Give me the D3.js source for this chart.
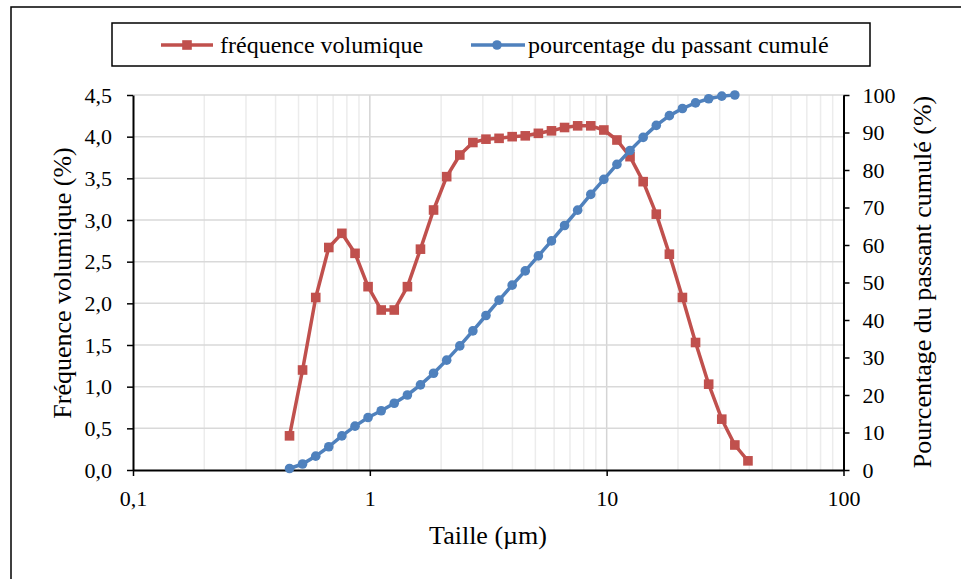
<!DOCTYPE html>
<html>
<head>
<meta charset="utf-8">
<script src="https://cdn.jsdelivr.net/npm/d3@7"></script>
<style>
  body { margin: 0; background: #fff; }
  svg text { font-family: "Liberation Serif", "Times New Roman", Times, Tinos, "DejaVu Serif", "Noto Serif", serif !important; }
</style>
</head>
<body>
<svg id="chart" width="961" height="579"></svg>
<script>
// particle sizes (µm)
const sizes = [0.458, 0.520, 0.591, 0.671, 0.762, 0.866, 0.983, 1.117, 1.268, 1.441,
  1.636, 1.858, 2.111, 2.398, 2.723, 3.093, 3.513, 3.990, 4.532, 5.148,
  5.847, 6.641, 7.543, 8.567, 9.731, 11.05, 12.55, 14.26, 16.20, 18.40,
  20.89, 23.73, 26.96, 30.62, 34.77, 39.50];

// fréquence volumique (%)
const freq = [0.41, 1.20, 2.07, 2.67, 2.84, 2.60, 2.20, 1.92, 1.92, 2.20,
  2.65, 3.12, 3.52, 3.78, 3.93, 3.97, 3.98, 4.00, 4.01, 4.04,
  4.07, 4.11, 4.13, 4.13, 4.08, 3.96, 3.76, 3.46, 3.07, 2.59,
  2.07, 1.53, 1.03, 0.61, 0.30, 0.11];

// pourcentage du passant cumulé (%)
const cumul = [0.4, 1.6, 3.7, 6.2, 9.1, 11.7, 14.0, 15.8, 17.8, 20.0,
  22.7, 25.8, 29.3, 33.1, 37.1, 41.2, 45.3, 49.3, 53.1, 57.1,
  61.1, 65.2, 69.3, 73.5, 77.5, 81.5, 85.2, 88.7, 91.9, 94.5,
  96.4, 97.9, 99.0, 99.7, 100];

const xTicks = [0.1, 1, 10, 100];
const yLeftTicks = [0, 0.5, 1, 1.5, 2, 2.5, 3, 3.5, 4, 4.5];
const yRightTicks = [0, 10, 20, 30, 40, 50, 60, 70, 80, 90, 100];
const legendLabels = ["fréquence volumique", "pourcentage du passant cumulé"];

const red = "#C0504D", blue = "#4F81BD";
const svg = d3.select("#chart");

// outer frame (cut off at right and bottom)
svg.append("rect")
  .attr("x", 11).attr("y", 7)
  .attr("width", 1000).attr("height", 700)
  .attr("fill", "none").attr("stroke", "#000").attr("stroke-width", 1.5);

const x = d3.scaleLog().domain([0.1, 100]).range([133, 843.5]);
const yL = d3.scaleLinear().domain([0, 4.5]).range([470, 95]);
const yR = d3.scaleLinear().domain([0, 100]).range([470, 95]);

// grid
let minor = [];
[0.1, 1, 10].forEach(function (d) {
  for (let k = 2; k <= 9; k++) minor.push(d * k);
});
svg.append("g").selectAll("line").data(minor).join("line")
  .attr("x1", d => x(d)).attr("x2", d => x(d))
  .attr("y1", yL(4.5)).attr("y2", yL(0))
  .attr("stroke", "#ececec").attr("stroke-width", 1.5);
svg.append("g").selectAll("line").data([1, 10]).join("line")
  .attr("x1", d => x(d)).attr("x2", d => x(d))
  .attr("y1", yL(4.5)).attr("y2", yL(0))
  .attr("stroke", "#d4d4d4").attr("stroke-width", 1.5);
svg.append("g").selectAll("line").data(yLeftTicks.slice(1)).join("line")
  .attr("x1", x(0.1)).attr("x2", x(100))
  .attr("y1", d => yL(d)).attr("y2", d => yL(d))
  .attr("stroke", "#d9d9d9").attr("stroke-width", 1.5);

const comma = d => String(d).replace(".", ",");

// axes
const axL = svg.append("g").attr("transform", "translate(133,0)")
  .call(d3.axisLeft(yL).tickValues(yLeftTicks).tickFormat(d => d3.format(".1f")(d).replace(".", ","))
    .tickSize(6).tickSizeOuter(0).tickPadding(15));
const axR = svg.append("g").attr("transform", "translate(843.5,0)")
  .call(d3.axisRight(yR).tickValues(yRightTicks).tickSize(6).tickSizeOuter(0).tickPadding(13));
const axB = svg.append("g").attr("transform", "translate(0,470)")
  .call(d3.axisBottom(x).tickValues(xTicks).tickFormat(comma)
    .tickSize(6).tickSizeOuter(0).tickPadding(14));

[axL, axR, axB].forEach(function (g) {
  g.attr("font-family", null).attr("font-size", 22);
  g.select(".domain").attr("stroke", "#000").attr("stroke-width", 2);
  g.selectAll(".tick line").attr("stroke", "#000").attr("stroke-width", 1.5);
  g.selectAll(".tick text").attr("fill", "#000");
});

// series
const lineF = d3.line().x((d, i) => x(sizes[i])).y(d => yL(d));
const lineC = d3.line().x((d, i) => x(sizes[i])).y(d => yR(d));

svg.append("path").datum(freq)
  .attr("d", lineF).attr("fill", "none")
  .attr("stroke", red).attr("stroke-width", 3.5).attr("stroke-linejoin", "round");
svg.append("g").selectAll("rect").data(freq).join("rect")
  .attr("x", (d, i) => x(sizes[i]) - 4.8).attr("y", d => yL(d) - 4.8)
  .attr("width", 9.6).attr("height", 9.6).attr("fill", red);

svg.append("path").datum(cumul)
  .attr("d", lineC).attr("fill", "none")
  .attr("stroke", blue).attr("stroke-width", 3.5).attr("stroke-linejoin", "round");
svg.append("g").selectAll("circle").data(cumul).join("circle")
  .attr("cx", (d, i) => x(sizes[i])).attr("cy", d => yR(d))
  .attr("r", 4.8).attr("fill", blue);

// axis titles
svg.append("text")
  .attr("transform", "translate(62,283) rotate(-90)")
  .attr("text-anchor", "middle").attr("dy", "0.35em")
  .attr("font-size", 26)
  .text("Fréquence volumique (%)");
svg.append("text")
  .attr("transform", "translate(922,282) rotate(-90)")
  .attr("text-anchor", "middle").attr("dy", "0.35em")
  .attr("font-size", 26)
  .text("Pourcentage du passant cumulé (%)");
svg.append("text")
  .attr("x", 488).attr("y", 544)
  .attr("text-anchor", "middle")
  .attr("font-size", 26)
  .text("Taille (µm)");

// legend
const leg = svg.append("g");
leg.append("rect")
  .attr("x", 112).attr("y", 23).attr("width", 758).attr("height", 43)
  .attr("fill", "#fff").attr("stroke", "#000").attr("stroke-width", 1.5);

leg.append("line").attr("x1", 161).attr("x2", 213).attr("y1", 45).attr("y2", 45)
  .attr("stroke", red).attr("stroke-width", 3.5);
leg.append("rect").attr("x", 187 - 4.8).attr("y", 45 - 4.8).attr("width", 9.6).attr("height", 9.6)
  .attr("fill", red);
leg.append("text").attr("x", 220).attr("y", 45).attr("dy", "0.35em")
  .attr("font-size", 24)
  .text(legendLabels[0]);

leg.append("line").attr("x1", 471).attr("x2", 525).attr("y1", 45).attr("y2", 45)
  .attr("stroke", blue).attr("stroke-width", 3.5);
leg.append("circle").attr("cx", 497).attr("cy", 45).attr("r", 4.8).attr("fill", blue);
leg.append("text").attr("x", 528).attr("y", 45).attr("dy", "0.35em")
  .attr("font-size", 24)
  .text(legendLabels[1]);
</script>
</body>
</html>
